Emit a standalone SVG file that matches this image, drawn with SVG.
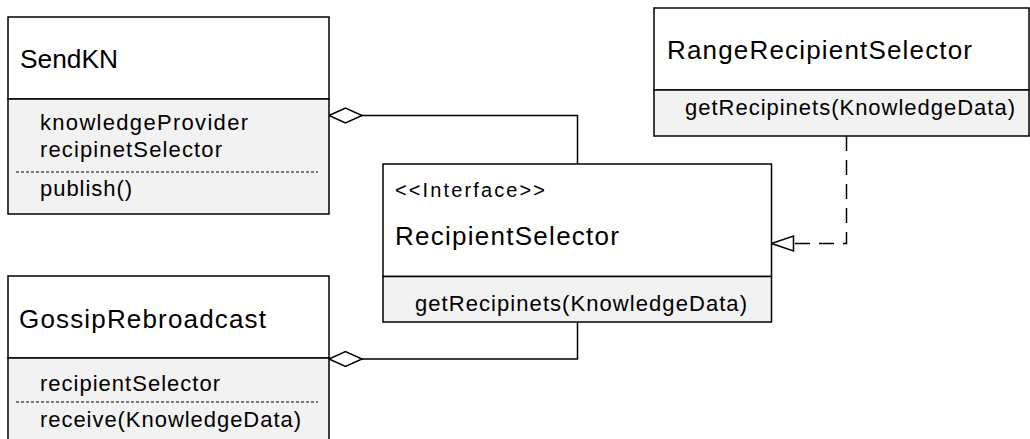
<svg xmlns="http://www.w3.org/2000/svg" width="1030" height="439" viewBox="0 0 1030 439">
  <style>
    .box { fill: #ffffff; stroke: #000; stroke-width: 1.5; }
    .comp { fill: #f2f2f2; stroke: #000; stroke-width: 1.5; }
    .sep { stroke: #000; stroke-width: 1; stroke-dasharray: 3 2; fill: none; }
    .title { font-family: "Liberation Sans", Arial, sans-serif; font-size: 26px; fill: #000; }
    .item { font-family: "Liberation Sans", Arial, sans-serif; font-size: 22px; fill: #000; }
    .stereo { font-family: "Liberation Sans", Arial, sans-serif; font-size: 20px; fill: #000; }
    .link { fill: none; stroke: #000; stroke-width: 1.5; }
    .realize { fill: none; stroke: #000; stroke-width: 1.5; stroke-dasharray: 15 9; }
  </style>
  <defs>
    <!-- hollow diamond for aggregation, tip at the owning class -->
    <marker id="aggDiamond" markerUnits="userSpaceOnUse" orient="auto" refX="0" refY="0" markerWidth="40" markerHeight="20" overflow="visible">
      <polygon points="0,0 16.5,-7.5 33,0 16.5,7.5" fill="#fff" stroke="#000" stroke-width="1.5" stroke-dasharray="none"/>
    </marker>
    <!-- hollow triangle for interface realization -->
    <marker id="realizeHead" markerUnits="userSpaceOnUse" orient="auto" refX="0" refY="0" markerWidth="30" markerHeight="20" overflow="visible">
      <polygon points="0,0 -22,-7.5 -22,7.5" fill="#fff" stroke="#000" stroke-width="1.5" stroke-dasharray="none"/>
    </marker>
  </defs>

  <rect width="1030" height="439" fill="#fff"/>

  <!-- connectors -->
  <g id="connectors">
    <path id="sendkn-agg" class="link" d="M329,115.5 H577.5 V164" marker-start="url(#aggDiamond)"/>
    <path id="gossip-agg" class="link" d="M329,359 H577.5 V322" marker-start="url(#aggDiamond)"/>
    <path id="range-realizes" class="realize" d="M846.5,136 V243.5 H771.5" marker-end="url(#realizeHead)"/>
  </g>

  <!-- SendKN -->
  <g id="SendKN">
    <rect class="box" x="8" y="17" width="321" height="82"/>
    <rect class="comp" x="8" y="99" width="321" height="115"/>
    <text class="title" x="20" y="68" textLength="98" lengthAdjust="spacingAndGlyphs">SendKN</text>
    <text class="item" x="40" y="130" textLength="208">knowledgeProvider</text>
    <text class="item" x="40" y="157" textLength="182">recipinetSelector</text>
    <line class="sep" x1="16" y1="172" x2="318" y2="172"/>
    <text class="item" x="40" y="196" textLength="92">publish()</text>
  </g>

  <!-- RangeRecipientSelector -->
  <g id="RangeRecipientSelector">
    <rect class="box" x="654" y="8" width="375" height="82"/>
    <rect class="comp" x="654" y="90" width="375" height="46"/>
    <text class="title" x="667" y="59" textLength="305">RangeRecipientSelector</text>
    <text class="item" x="685" y="115" textLength="330">getRecipinets(KnowledgeData)</text>
  </g>

  <!-- RecipientSelector interface -->
  <g id="RecipientSelector">
    <rect class="box" x="383" y="164" width="388.5" height="112.5"/>
    <rect class="comp" x="383" y="276.5" width="388.5" height="45.5"/>
    <text class="stereo" x="395" y="197" textLength="150">&lt;&lt;Interface&gt;&gt;</text>
    <text class="title" x="395" y="245" textLength="224">RecipientSelector</text>
    <text class="item" x="415" y="311" textLength="332">getRecipinets(KnowledgeData)</text>
  </g>

  <!-- GossipRebroadcast -->
  <g id="GossipRebroadcast">
    <rect class="box" x="8" y="276" width="321" height="82"/>
    <rect class="comp" x="8" y="358" width="321" height="90"/>
    <text class="title" x="19" y="328" textLength="247">GossipRebroadcast</text>
    <text class="item" x="40" y="391" textLength="180">recipientSelector</text>
    <line class="sep" x1="16" y1="402" x2="318" y2="402"/>
    <text class="item" x="40" y="427" textLength="261">receive(KnowledgeData)</text>
  </g>
</svg>
